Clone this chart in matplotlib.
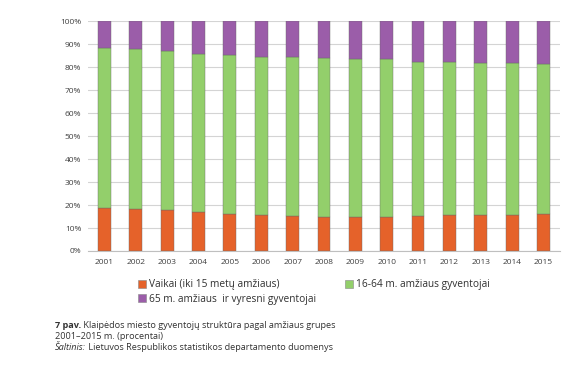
import matplotlib.pyplot as plt
import matplotlib.patches as mpatches
import numpy as np

plt.rcParams['font.family'] = ['Open Sans', 'DejaVu Sans']

# Years and shares (%)
years = ['2001', '2002', '2003', '2004', '2005', '2006', '2007', '2008',
         '2009', '2010', '2011', '2012', '2013', '2014', '2015']
children = [18.9, 18.3, 17.7, 16.8, 16.3, 15.8, 15.2, 14.9,
            14.8, 14.8, 15.2, 15.7, 15.7, 15.8, 16.0]
working = [69.3, 69.4, 69.2, 69.1, 69.0, 68.8, 69.1, 69.1,
           68.9, 68.9, 67.2, 66.6, 66.3, 65.8, 65.3]
elderly = [100 - c - w for c, w in zip(children, working)]

labels = ['Vaikai (iki 15 metų amžiaus)', '16-64 m. amžiaus gyventojai',
          '65 m. amžiaus  ir vyresni gyventojai']
colors = ['#E5622A', '#93CF6B', '#9B5DA9']

fig = plt.figure(figsize=(5.88, 3.78), dpi=100)
ax = fig.add_axes([0.150, 0.336, 0.802, 0.608])

x = np.arange(len(years))
w = 0.41
bottom = np.zeros(len(years))
for vals, col in zip([children, working, elderly], colors):
    ax.bar(x, vals, w, bottom=bottom, color=col, edgecolor='#6a6a6a',
           linewidth=0.3, zorder=3)
    bottom += np.array(vals)

ax.set_xlim(-0.52, len(years) - 0.48)
ax.set_ylim(0, 100)
ax.set_yticks(np.arange(0, 101, 10))
ax.set_yticklabels([f'{v}%' for v in range(0, 101, 10)])
ax.set_xticks(x)
ax.set_xticklabels(years)
ax.tick_params(axis='both', labelsize=6, colors='#404040', length=0, pad=5)
ax.tick_params(axis='x', pad=6)
ax.grid(axis='y', color='#d4d4d4', linewidth=0.8, zorder=0)
for s in ['top', 'right', 'left']:
    ax.spines[s].set_visible(False)
ax.spines['bottom'].set_color('#bfbfbf')

# legend below the chart (row-major order: Vaikai, 16-64 / 65+)
handles = [mpatches.Patch(facecolor=c, edgecolor='#888888', linewidth=0.4) for c in colors]
order = [0, 2, 1]
leg = fig.legend([handles[i] for i in order], [labels[i] for i in order],
                 loc='upper left', bbox_to_anchor=(0.228, 0.272),
                 ncol=2, frameon=False, fontsize=7.3, handlelength=0.8,
                 handleheight=0.8, handletextpad=0.3, columnspacing=2.8,
                 labelspacing=0.35, borderaxespad=0)
for t in leg.get_texts():
    t.set_color('#303030')

# caption
cap = dict(fontsize=6.6, color='#333333', va='center')
t1 = fig.text(0.094, 0.138, '7 pav.', fontweight='bold', **cap)
ax.annotate(' Klaipėdos miesto gyventojų struktūra pagal amžiaus grupes',
            xy=(1, 0.5), xycoords=t1, ha='left', annotation_clip=False, **cap)
fig.text(0.094, 0.110, '2001–2015 m. (procentai)', **cap)
t3 = fig.text(0.094, 0.082, 'Šaltinis:', style='italic', **cap)
ax.annotate(' Lietuvos Respublikos statistikos departamento duomenys',
            xy=(1, 0.5), xycoords=t3, ha='left', annotation_clip=False, **cap)

fig.savefig('out.png', dpi=100)
